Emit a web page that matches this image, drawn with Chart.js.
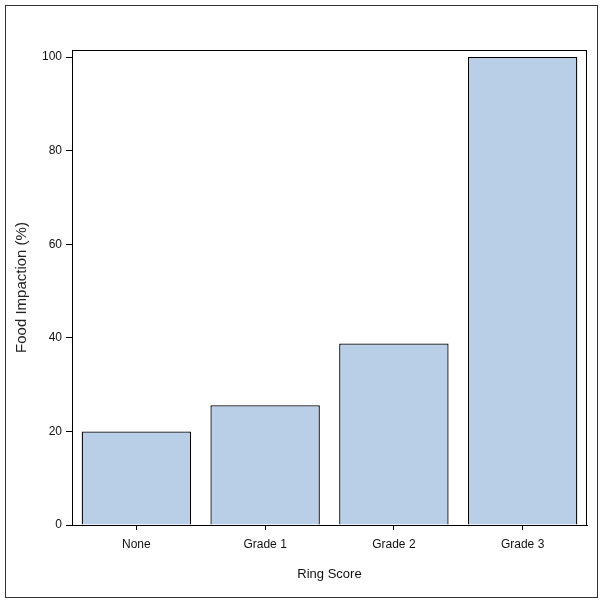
<!DOCTYPE html>
<html>
<head>
<meta charset="utf-8">
<script src="https://cdn.jsdelivr.net/npm/chart.js@4"></script>
<style>
  html, body { margin: 0; padding: 0; background: #fff; }
  #wrap { width: 604px; height: 604px; position: relative; }
</style>
</head>
<body>
<div id="wrap"><canvas id="chart"></canvas></div>
<script>
const categories = ['None', 'Grade 1', 'Grade 2', 'Grade 3'];
const impaction = [20, 25.6, 38.8, 100];
const yTicks = [0, 20, 40, 60, 80, 100];

const FONT = '"Liberation Sans", Arial, sans-serif';

// outer frame + plot frame
const frames = {
  id: 'frames',
  afterDraw(chart) {
    const { ctx, chartArea: a } = chart;
    ctx.save();
    ctx.strokeStyle = '#333';
    ctx.lineWidth = 1;
    ctx.strokeRect(5.5, 5.5, 592, 592);
    ctx.strokeStyle = '#000';
    ctx.strokeRect(a.left + 0.5, a.top + 0.5, a.right - a.left - 1, a.bottom - a.top);
    ctx.restore();
  }
};

new Chart(document.getElementById('chart'), {
  type: 'bar',
  data: {
    labels: categories,
    datasets: [{
      data: impaction,
      backgroundColor: '#B9CFE8',
      borderColor: '#000',
      borderWidth: 1.3,
      categoryPercentage: 1,
      barPercentage: 0.85
    }]
  },
  options: {
    responsive: true,
    maintainAspectRatio: false,
    animation: false,
    layout: { padding: { top: 50, right: 17, bottom: 0, left: 0 } },
    plugins: { legend: { display: false }, tooltip: { enabled: false } },
    scales: {
      x: {
        grid: { drawOnChartArea: false, offset: false, tickLength: 5, color: '#000' },
        border: { color: '#000' },
        ticks: { color: '#111', padding: 7, font: { family: FONT, size: 12 } },
        title: {
          display: true, text: 'Ring Score', color: '#111',
          font: { family: FONT, size: 13 }, padding: { top: 22, bottom: 22 }
        },
        afterFit(s) { s.height = 79; }
      },
      y: {
        min: 0,
        max: 101.5,
        grid: { drawOnChartArea: false, tickLength: 6, color: '#000' },
        border: { color: '#000' },
        afterBuildTicks(s) { s.ticks = yTicks.map(v => ({ value: v })); },
        ticks: { color: '#111', padding: 4, font: { family: FONT, size: 12 } },
        title: {
          display: true, text: 'Food Impaction (%)', color: '#222',
          font: { family: FONT, size: 15 }, padding: { top: 13, bottom: 13 }
        },
        afterFit(s) { s.width = 72; }
      }
    }
  },
  plugins: [frames]
});
</script>
</body>
</html>
